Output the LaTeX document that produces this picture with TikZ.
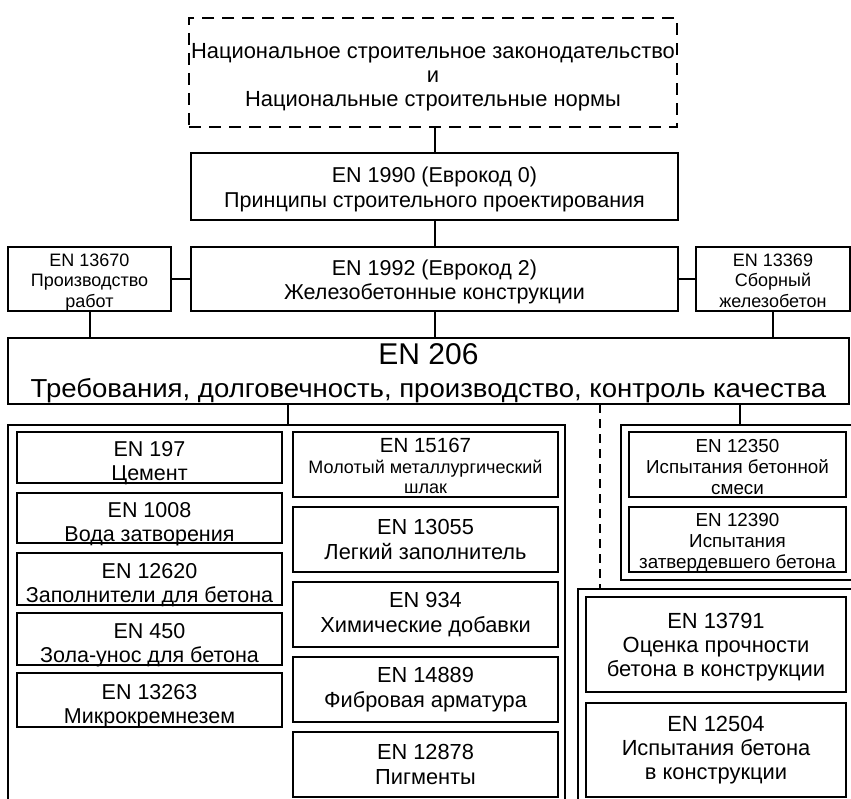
\documentclass[tikz,border=0pt]{standalone}
\usepackage{fontspec}
\usepackage{graphicx}
\setmainfont{Liberation Sans}
\newcommand{\myfs}[2]{\fontsize{#1}{#2}\selectfont}
% lower a multi-line label by #1 pt without changing its reported size
\newcommand{\lb}[2]{\raisebox{-#1pt}[\height][\depth]{\begin{tabular}{@{}c@{}}#2\end{tabular}}}
\tikzset{
  bx/.style={draw, line width=2.6pt, inner sep=0pt, outer sep=0pt, align=center, anchor=center},
  dashbox/.style={bx, dash pattern=on 12pt off 8pt},
  grp/.style={draw, line width=2.6pt, inner sep=0pt, outer sep=0pt, anchor=center},
  conn/.style={line width=2pt},
  dconn/.style={line width=2pt, dash pattern=on 9pt off 6pt},
}
\begin{document}
\begin{tikzpicture}[x=1pt,y=-1pt]
\useasboundingbox (0,0) rectangle (851,799);
\clip (0,0) rectangle (851,799);
\fill[white] (0,0) rectangle (851,799);

% top level
\node[dashbox, minimum width=488pt, minimum height=109pt, font=\myfs{21.9}{24}] (nat) at (433,72.5)
  {\lb{5}{Национальное строительное законодательство\\и\\Национальные строительные нормы}};
\node[bx, minimum width=487pt, minimum height=67pt, font=\myfs{21.5}{25}] (en1990) at (434.5,186.5)
  {\lb{4}{EN 1990 (Еврокод 0)\\Принципы строительного проектирования}};
\node[bx, minimum width=487pt, minimum height=64pt, font=\myfs{21.5}{24}] (en1992) at (434.5,279)
  {\lb{4}{EN 1992 (Еврокод 2)\\Железобетонные конструкции}};
\node[bx, minimum width=163pt, minimum height=64pt, font=\myfs{18}{20.5}] (en13670) at (89.5,279)
  {\lb{3.5}{EN 13670\\Производство\\работ}};
\node[bx, minimum width=154pt, minimum height=64pt, font=\myfs{18}{20.5}] (en13369) at (773,279)
  {\lb{3.5}{EN 13369\\Сборный\\железобетон}};
\node[bx, minimum width=841pt, minimum height=64pt, font=\myfs{26}{33}] (en206) at (428.5,371)
  {\lb{3.5}{{\myfs{30}{33}EN 206}\\\scalebox{1.06}[1]{Требования, долговечность, производство, контроль качества}}};

% groups
\node[grp, minimum width=557pt, minimum height=405pt] (matgrp) at (286.5,627.5) {};
\node[grp, minimum width=231pt, minimum height=155pt] (testgrp) at (736.5,502.5) {};
\node[grp, minimum width=274pt, minimum height=241pt] (situgrp) at (715,709.5) {};

% left column
\tikzset{lcol/.style={bx, minimum width=265pt, font=\myfs{21.5}{24}}}
\node[lcol, minimum height=51pt] (en197) at (149.5,457.5) {\lb{6.5}{EN 197\\Цемент}};
\node[lcol, minimum height=50pt] (en1008) at (149.5,518) {\lb{6.5}{EN 1008\\Вода затворения}};
\node[lcol, minimum height=52pt] (en12620) at (149.5,579) {\lb{6.5}{EN 12620\\Заполнители для бетона}};
\node[lcol, minimum height=52pt] (en450) at (149.5,639) {\lb{6.5}{EN 450\\Зола-унос для бетона}};
\node[lcol, minimum height=54pt] (en13263) at (149.5,700) {\lb{6.5}{EN 13263\\Микрокремнезем}};

% middle column
\tikzset{mcol/.style={bx, minimum width=265pt, minimum height=65pt, font=\myfs{21.8}{25.5}}}
\node[mcol, font=\myfs{20.5}{20.5}] (en15167) at (425.5,464.5)
  {\lb{4.5}{EN 15167\\{\myfs{18}{20.5}Молотый металлургический}\\{\myfs{18}{20.5}шлак}}};
\node[mcol] (en13055) at (425.5,539.5) {EN 13055\\Легкий заполнитель};
\node[mcol] (en934) at (425.5,614.5) {EN 934\\Химические добавки};
\node[mcol] (en14889) at (425.5,689.5) {EN 14889\\Фибровая арматура};
\node[mcol] (en12878) at (425.5,764.5) {EN 12878\\Пигменты};

% right upper
\tikzset{rcol/.style={bx, minimum width=217pt, minimum height=65pt, font=\myfs{18.8}{21}}}
\node[rcol] (en12350) at (737.5,464.5) {\lb{4.5}{EN 12350\\Испытания бетонной\\смеси}};
\node[rcol] (en12390) at (737.5,539.5) {\lb{3.5}{EN 12390\\Испытания\\затвердевшего бетона}};

% right lower
\tikzset{scol/.style={bx, minimum width=260pt, font=\myfs{21.9}{24}}}
\node[scol, minimum height=95pt] (en13791) at (716,644.5) {\lb{3.5}{EN 13791\\Оценка прочности\\бетона в конструкции}};
\node[scol, minimum height=94pt] (en12504) at (716,750) {EN 12504\\Испытания бетона\\в конструкции};

% connectors
\draw[conn] (nat.south -| en1990.north) -- (en1990.north);
\draw[conn] (en1990.south) -- (en1992.north);
\draw[conn] (en13670.east) -- (en1992.west);
\draw[conn] (en1992.east) -- (en13369.west);
\draw[conn] (en1992.south) -- (en1992.south |- en206.north);
\draw[conn] (en13670.south) -- (en13670.south |- en206.north);
\draw[conn] (en13369.south) -- (en13369.south |- en206.north);
\coordinate (cm) at (288,0);
\coordinate (ct) at (740,0);
\coordinate (cs) at (600,0);
\draw[conn] (cm |- en206.south) -- (cm |- matgrp.north);
\draw[conn] (ct |- en206.south) -- (ct |- testgrp.north);
\draw[dconn] (cs |- en206.south) -- (cs |- situgrp.north);
\end{tikzpicture}
\end{document}
